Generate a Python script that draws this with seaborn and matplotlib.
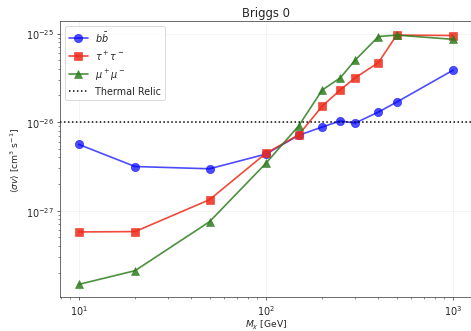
import matplotlib

matplotlib.use("Agg")

import matplotlib.pyplot as plt
import pandas as pd
import seaborn as sns
from matplotlib.ticker import NullFormatter

# DM masses [GeV]
masses = [10, 20, 50, 100, 150, 200, 250, 300, 400, 500, 1000]

# <sigma v> limits [cm^3 s^-1]
sv_bb = [5.6e-27, 3.15e-27, 2.97e-27, 4.35e-27, 7.1e-27, 8.8e-27,
         1.03e-26, 9.75e-27, 1.3e-26, 1.68e-26, 3.85e-26]
sv_tautau = [5.75e-28, 5.8e-28, 1.33e-27, 4.43e-27, 7.2e-27, 1.51e-26,
             2.31e-26, 3.16e-26, 4.7e-26, 9.6e-26, 9.5e-26]
sv_mumu = [1.47e-28, 2.1e-28, 7.5e-28, 3.42e-27, 9.1e-27, 2.3e-26,
           3.16e-26, 5.0e-26, 9.25e-26, 9.6e-26, 8.6e-26]
thermal_relic = 1e-26

channels = [
    (r"$b\bar{b}$", sv_bb, "#0000ff", "o", 0.7),
    (r"$\tau^+\tau^-$", sv_tautau, "#ee2a1a", "s", 0.85),
    (r"$\mu^+\mu^-$", sv_mumu, "#2e7d1e", "^", 0.85),
]

sns.set_style("ticks")
plt.rcParams.update({"font.size": 11.5, "axes.titlesize": 14,
                     "axes.labelsize": 11, "xtick.labelsize": 11.5,
                     "ytick.labelsize": 11.5, "legend.fontsize": 11.5})

fig = plt.figure(figsize=(7.85, 5.533), dpi=60)
ax = fig.add_axes([0.1274, 0.1024, 0.874, 0.831])

for label, values, color, marker, alpha in channels:
    df = pd.DataFrame({"mass": masses, "sv": values})
    sns.lineplot(
        data=df, x="mass", y="sv", ax=ax, color=color, marker=marker,
        markersize=10, markeredgecolor=color, linewidth=2.0, alpha=alpha,
        label=label,
    )

ax.axhline(thermal_relic, color="black", linestyle=":", linewidth=1.8,
           label="Thermal Relic")

ax.set_xscale("log")
ax.set_yscale("log")
ax.set_xlim(10 ** 0.9, 10 ** 3.1)
ax.set_ylim(10 ** -27.975, 10 ** -24.86)
ax.xaxis.set_minor_formatter(NullFormatter())
ax.yaxis.set_minor_formatter(NullFormatter())
ax.xaxis.get_offset_text().set_visible(False)
ax.yaxis.get_offset_text().set_visible(False)
ax.grid(True, which="major", alpha=0.3)
ax.set_xlabel(r"$M_\chi$ [GeV]", labelpad=1)
ax.set_ylabel(r"$\langle\sigma v\rangle$ [cm$^3$ s$^{-1}$]", labelpad=6)
ax.set_title("Briggs 0")
ax.legend(loc="upper left")

fig.savefig("out.png", dpi=60)
